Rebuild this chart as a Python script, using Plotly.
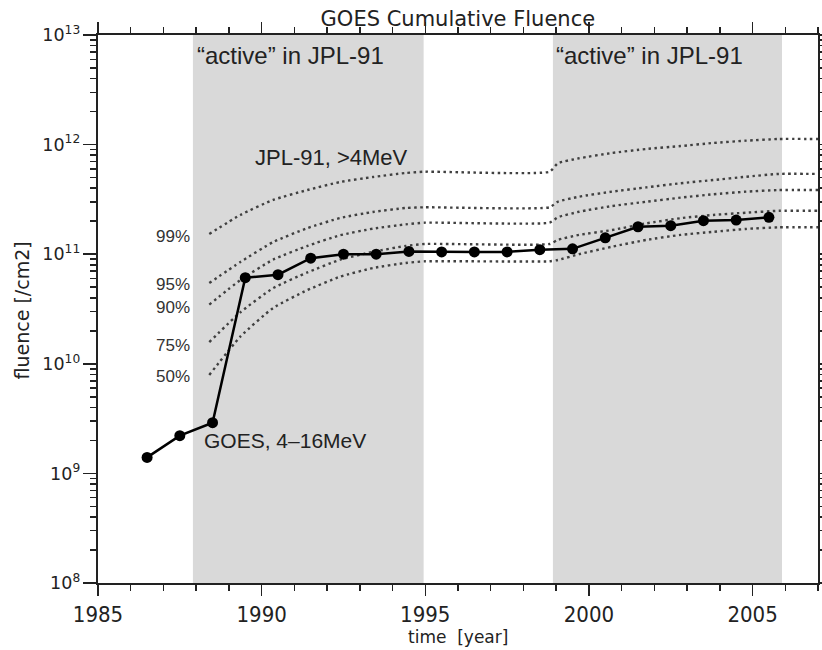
import plotly.graph_objects as go

# ---------------- data ----------------
goes_years = [1986.5, 1987.5, 1988.5, 1989.5, 1990.5, 1991.5, 1992.5, 1993.5, 1994.5, 1995.5,
              1996.5, 1997.5, 1998.5, 1999.5, 2000.5, 2001.5, 2002.5, 2003.5, 2004.5, 2005.5]
goes_fluence = [1.40e9, 2.21e9, 2.90e9, 6.1e10, 6.5e10, 9.2e10, 1.00e11, 1.00e11, 1.06e11, 1.05e11,
                1.05e11, 1.05e11, 1.10e11, 1.12e11, 1.41e11, 1.78e11, 1.82e11, 2.02e11, 2.05e11, 2.17e11]

jpl_years = [1988.4, 1989.35, 1990.35, 1991.4, 1992.4, 1993.4, 1994.4, 1995.0, 1998.8,
             1999.05, 1999.7, 2000.7, 2001.75, 2002.8, 2003.8, 2004.8, 2005.8, 2007.0]
jpl_99 = [1.53e11, 2.28e11, 3.13e11, 3.85e11, 4.56e11, 5.06e11, 5.51e11, 5.66e11, 5.66e11,
          6.75e11, 7.50e11, 8.38e11, 9.12e11, 9.70e11, 1.035e12, 1.086e12, 1.125e12, 1.125e12]
jpl_95 = [5.46e10, 8.49e10, 1.29e11, 1.73e11, 2.14e11, 2.43e11, 2.64e11, 2.68e11, 2.68e11,
          3.01e11, 3.35e11, 3.72e11, 4.07e11, 4.44e11, 4.75e11, 5.09e11, 5.40e11, 5.40e11]
jpl_90 = [3.47e10, 5.81e10, 8.93e10, 1.19e11, 1.49e11, 1.71e11, 1.87e11, 1.94e11, 1.94e11,
          2.17e11, 2.44e11, 2.75e11, 3.01e11, 3.28e11, 3.52e11, 3.72e11, 3.85e11, 3.85e11]
jpl_75 = [1.58e10, 2.95e10, 4.90e10, 6.82e10, 8.91e10, 1.05e11, 1.19e11, 1.24e11, 1.24e11,
          1.35e11, 1.50e11, 1.66e11, 1.91e11, 2.13e11, 2.28e11, 2.39e11, 2.49e11, 2.49e11]
jpl_50 = [7.91e9, 1.77e10, 3.23e10, 4.71e10, 6.24e10, 7.48e10, 8.32e10, 8.61e10, 8.61e10,
          8.85e10, 1.00e11, 1.17e11, 1.35e11, 1.50e11, 1.60e11, 1.70e11, 1.76e11, 1.76e11]
jpl_series = [("99%", jpl_99), ("95%", jpl_95), ("90%", jpl_90), ("75%", jpl_75), ("50%", jpl_50)]

active_periods = [(1987.9, 1994.95), (1998.9, 2005.9)]
x_range = [1985, 2007]
y_range_log = [8, 13]
minor_mantissas = [2, 3, 4, 5, 6, 7, 8, 9]

# ---------------- figure ----------------
fig = go.Figure()

for name, vals in jpl_series:
    fig.add_trace(go.Scatter(
        x=jpl_years, y=vals, mode="lines", name=name, showlegend=False,
        line=dict(color="#404040", width=2.4, dash="2.5px,3.5px", shape="spline", smoothing=0.5),
    ))

fig.add_trace(go.Scatter(
    x=goes_years, y=goes_fluence, mode="lines+markers", name="GOES", showlegend=False,
    line=dict(color="black", width=2.5),
    marker=dict(color="black", size=11, symbol="circle"),
))

# empty trace so the minor-tick overlay axis is drawn
fig.add_trace(go.Scatter(x=[None], y=[None], yaxis="y2", showlegend=False, hoverinfo="skip"))

shapes = []
for x0, x1 in active_periods:
    shapes.append(dict(type="rect", xref="x", yref="paper", x0=x0, x1=x1, y0=0, y1=1,
                       fillcolor="#d9d9d9", line=dict(width=0), layer="below"))

txt_font = "Liberation Sans, Arial, sans-serif"
lab_font = "DejaVu Sans, sans-serif"
narrow_font = "Liberation Sans Narrow, DejaVu Sans Condensed, Arial Narrow, sans-serif"

ann = []
for (x0, x1) in active_periods:
    ann.append(dict(x=(x0 + x1) / 2 - 0.55, y=0.962, xref="x", yref="paper",
                    xanchor="center", yanchor="middle",
                    text="\u201cactive\u201d in JPL-91", showarrow=False,
                    font=dict(family=txt_font, size=24, color="#222")))
ann.append(dict(x=1989.74, y=11.878, xref="x", yref="y", xanchor="left", yanchor="middle",
                text="JPL-91, >4MeV", showarrow=False,
                font=dict(family=txt_font, size=22, color="#222")))
ann.append(dict(x=1988.18, y=9.296, xref="x", yref="y", xanchor="left", yanchor="middle",
                text="GOES, 4\u201316MeV", showarrow=False,
                font=dict(family=txt_font, size=21, color="#222")))
pct_y = [11.166, 10.728, 10.518, 10.171, 9.880]
for (name, _), py in zip(jpl_series, pct_y):
    ann.append(dict(x=1987.87, y=py, xref="x", yref="y", xanchor="right", yanchor="middle",
                    text=name, showarrow=False,
                    font=dict(family=txt_font, size=17, color="#333")))
# axis titles
ann.append(dict(x=0.5, y=-0.098, xref="paper", yref="paper", xanchor="center", yanchor="middle",
                text="time  [year]", showarrow=False,
                font=dict(family=lab_font, size=17, color="#222")))
ann.append(dict(x=-0.105, y=0.498, xref="paper", yref="paper", xanchor="center", yanchor="middle",
                text="fluence [/cm2]", textangle=-90, showarrow=False,
                font=dict(family=lab_font, size=19, color="#222")))

fig.update_layout(
    width=822, height=650,
    margin=dict(l=98, r=4, t=35, b=67, autoexpand=False),
    paper_bgcolor="white", plot_bgcolor="white",
    shapes=shapes, annotations=ann,
    title=dict(text="GOES Cumulative Fluence", x=0.557, xanchor="center",
               y=0.971, yanchor="middle", font=dict(family=lab_font, size=21, color="#222")),
    xaxis=dict(range=x_range, tick0=1985, dtick=5, ticks="outside", ticklen=11, tickwidth=1.5,
               tickcolor="#222", showline=True, linecolor="#222", linewidth=2, mirror="ticks",
               showgrid=False, zeroline=False, automargin=False,
               tickfont=dict(family=narrow_font, size=22, color="#222"),
               minor=dict(dtick=1, ticks="outside", ticklen=6, tickwidth=1.5, tickcolor="#222",
                          showgrid=False)),
    yaxis=dict(type="log", range=y_range_log, dtick=1, exponentformat="power",
               ticks="outside", ticklen=13, tickwidth=1.5, tickcolor="#222",
               showline=True, linecolor="#222", linewidth=2, mirror="ticks",
               showgrid=False, zeroline=False, automargin=False,
               tickfont=dict(family=lab_font, size=14, color="#222")),
    yaxis2=dict(type="log", range=y_range_log, overlaying="y", side="left",
                tickvals=[m * 10 ** e for e in range(y_range_log[0], y_range_log[1]) for m in minor_mantissas],
                showticklabels=False, ticks="outside", ticklen=7, tickwidth=1.5, tickcolor="#222",
                showline=False, mirror="ticks", showgrid=False, zeroline=False, automargin=False),
)

fig.write_html("out.html",
               config={"displayModeBar": False, "staticPlot": True},
               post_script="document.body.style.margin='0';document.body.style.overflow='hidden';")
